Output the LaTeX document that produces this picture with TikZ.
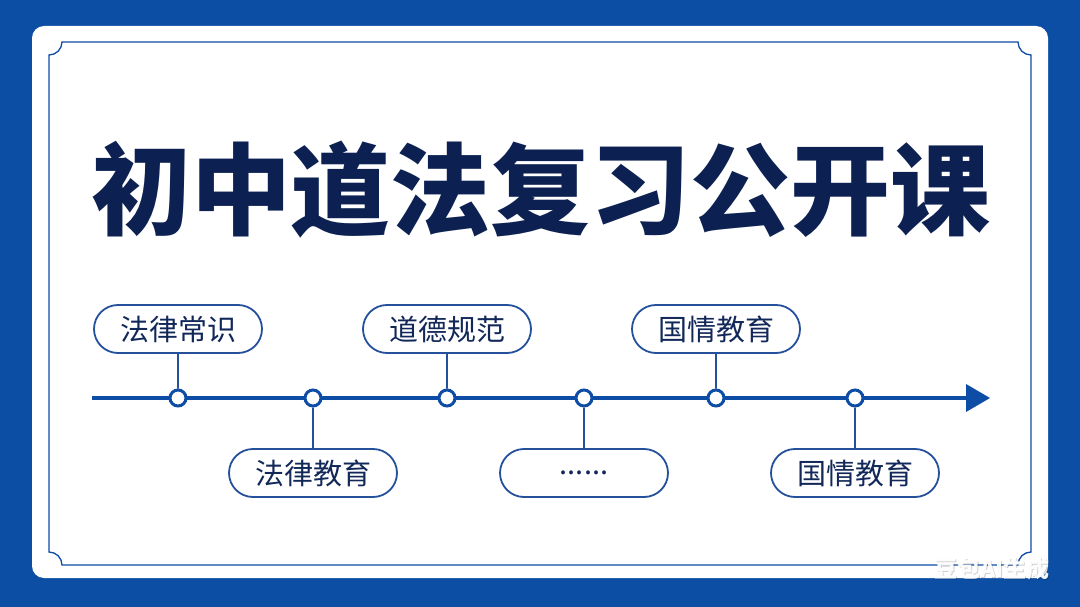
\documentclass[tikz,border=0pt]{standalone}
\usepackage{fontspec}
\newfontfamily\cjk{Noto Sans CJK SC}
\usetikzlibrary{shapes.misc}
\definecolor{bgblue}{HTML}{0B4EA4}
\definecolor{lineblue}{HTML}{0E4DA6}
\definecolor{pillblue}{HTML}{24509C}
\definecolor{navy}{HTML}{122859}
\definecolor{titlenavy}{HTML}{0C2152}
\tikzset{
  pill/.style={draw=pillblue, line width=1.8pt, rounded rectangle, fill=white,
    minimum width=168pt, minimum height=48pt, inner sep=0pt,
    font=\cjk\fontsize{29}{29}\selectfont, text=navy},
  stop/.style={circle, draw=lineblue, line width=3pt, fill=white, minimum size=16pt, inner sep=0pt},
  stem/.style={draw=pillblue, line width=1.8pt},
  wmfont/.style={font=\cjk\bfseries\fontsize{23}{23}\selectfont, inner sep=0pt},
}
\begin{document}
\begin{tikzpicture}[x=1pt,y=-1pt]
\useasboundingbox (0,0) rectangle (1080,607);
\fill[bgblue] (0,0) rectangle (1080,607);
\fill[white, rounded corners=12pt] (32,26) rectangle (1048,578);
\draw[lineblue, line width=1.3pt] (62,42) -- (1018,42)
  arc[start angle=180, end angle=90, radius=13] -- (1031,552)
  arc[start angle=270, end angle=180, radius=13] -- (62,565)
  arc[start angle=0, end angle=-90, radius=13] -- (49,55)
  arc[start angle=90, end angle=0, radius=13] -- cycle;
\node[font=\cjk\bfseries\fontsize{100}{100}\selectfont, text=titlenavy, inner sep=0pt] (title) at (541,190) {初中道法复习公开课};
% timeline
\coordinate (start) at (92,398);
\coordinate (tip) at (990,398);
\draw[lineblue, line width=4pt] (start) -- (968,398);
\fill[lineblue] (966,384) -- (tip) -- (966,412) -- cycle;
\node[stop] (s1) at (178,398) {};
\node[stop] (s2) at (313,398) {};
\node[stop] (s3) at (447,398) {};
\node[stop] (s4) at (584,398) {};
\node[stop] (s5) at (716,398) {};
\node[stop] (s6) at (855,398) {};
\node[pill] (p1) at (178,329) {法律常识};
\node[pill] (p2) at (313,473) {法律教育};
\node[pill] (p3) at (447,329) {道德规范};
\node[pill] (p4) at (584,473) {......};
\node[pill] (p5) at (716,329) {国情教育};
\node[pill] (p6) at (855,473) {国情教育};
\draw[stem] (p1) -- (s1);
\draw[stem] (p2) -- (s2);
\draw[stem] (p3) -- (s3);
\draw[stem] (p4) -- (s4);
\draw[stem] (p5) -- (s5);
\draw[stem] (p6) -- (s6);
\node[wmfont, text=black, opacity=0.18] (wmshadow) at (993,570) {豆包AI生成};
\node[wmfont, text=white, opacity=0.95] (wm) at (992,569) {豆包AI生成};
\end{tikzpicture}
\end{document}
